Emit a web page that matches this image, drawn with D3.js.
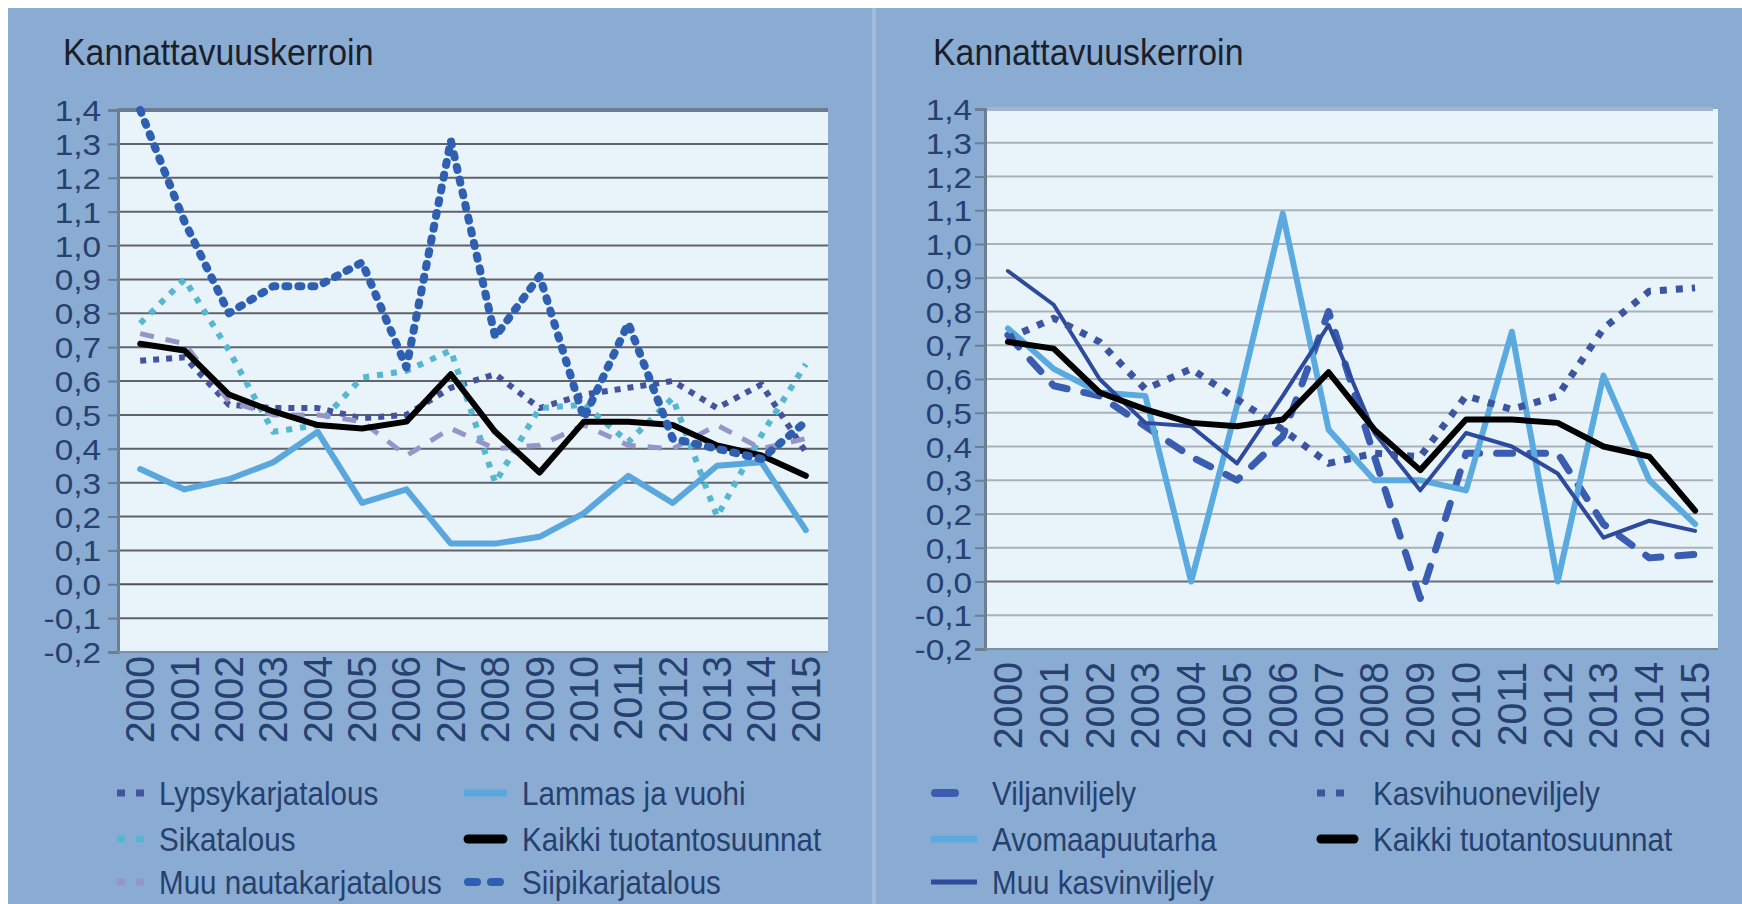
<!DOCTYPE html>
<html><head><meta charset="utf-8">
<script src="https://cdn.jsdelivr.net/npm/d3@7"></script>
<style>html,body{margin:0;padding:0;background:#fff;}svg{display:block;}</style>
</head><body>
<svg id="c" width="1742" height="904"></svg>
<script>
// ---------- data ----------
const years = ["2000","2001","2002","2003","2004","2005","2006","2007","2008","2009","2010","2011","2012","2013","2014","2015"];
const yTicks = [-0.2,-0.1,0.0,0.1,0.2,0.3,0.4,0.5,0.6,0.7,0.8,0.9,1.0,1.1,1.2,1.3,1.4];
const yTitle = "Kannattavuuskerroin";

// left panel (kotieläintalous)
const lypsykarjatalous   = [0.66,0.67,0.53,0.52,0.52,0.49,0.50,0.58,0.62,0.52,0.56,0.58,0.60,0.52,0.59,0.39];
const sikatalous         = [0.77,0.90,0.69,0.45,0.47,0.61,0.63,0.69,0.30,0.52,0.53,0.42,0.55,0.20,0.44,0.65];
const muuNautakarjatalous= [0.74,0.71,0.54,0.50,0.50,0.48,0.38,0.46,0.40,0.41,0.47,0.41,0.40,0.47,0.40,0.43];
const lammasJaVuohi      = [0.34,0.28,0.31,0.36,0.45,0.24,0.28,0.12,0.12,0.14,0.21,0.32,0.24,0.35,0.36,0.16];
const kaikkiVasen        = [0.71,0.69,0.56,0.51,0.47,0.46,0.48,0.62,0.45,0.33,0.48,0.48,0.47,0.41,0.38,0.32];
const siipikarjatalous   = [1.40,1.07,0.80,0.88,0.88,0.95,0.64,1.31,0.73,0.91,0.49,0.77,0.43,0.40,0.37,0.48];

// right panel (kasvinviljely)
const viljanviljely      = [0.73,0.58,0.55,0.46,0.37,0.30,0.43,0.80,0.37,-0.05,0.38,0.38,0.38,0.17,0.07,0.08];
const avomaapuutarha     = [0.75,0.63,0.56,0.55,0.00,0.52,1.09,0.45,0.30,0.30,0.27,0.74,0.00,0.61,0.30,0.17];
const muuKasvinviljely   = [0.92,0.82,0.60,0.47,0.46,0.35,0.55,0.76,0.44,0.27,0.44,0.40,0.32,0.13,0.18,0.15];
const kasvihuoneviljely  = [0.72,0.78,0.71,0.57,0.63,0.54,0.45,0.35,0.38,0.37,0.55,0.51,0.55,0.75,0.86,0.87];
const kaikkiOikea        = [0.71,0.69,0.56,0.51,0.47,0.46,0.48,0.62,0.45,0.33,0.48,0.48,0.47,0.40,0.37,0.21];

// ---------- styles ----------
const FONT = "'Liberation Sans', Arial, sans-serif";
const PANEL_BG = "#8aacd2", PLOT_BG = "#e9f3fa", LABEL = "#26406f", TITLE = "#1b1f2a";

const leftSeries = [
  {name:"Lypsykarjatalous", values:lypsykarjatalous, color:"#44549c", width:6, dash:"6 7", cap:"butt", leg:{col:0,row:0,type:"dots"}},
  {name:"Sikatalous", values:sikatalous, color:"#55b7d1", width:6, dash:"6 8", cap:"butt", leg:{col:0,row:1,type:"dots"}},
  {name:"Muu nautakarjatalous", values:muuNautakarjatalous, color:"#9495c8", width:5, dash:"14 12", cap:"butt", leg:{col:0,row:2,type:"dots"}},
  {name:"Lammas ja vuohi", values:lammasJaVuohi, color:"#5aa7dd", width:6, dash:null, cap:"round", leg:{col:1,row:0,type:"line"}},
  {name:"Kaikki tuotantosuunnat", values:kaikkiVasen, color:"#000000", width:6, dash:null, cap:"round", leg:{col:1,row:1,type:"thick"}},
  {name:"Siipikarjatalous", values:siipikarjatalous, color:"#2f5fb0", width:8, dash:"3 10", cap:"round", leg:{col:1,row:2,type:"round"}}
];
const rightSeries = [
  {name:"Viljanviljely", values:viljanviljely, color:"#3a5db2", width:7, dash:"16 17", cap:"round", leg:{col:0,row:0,type:"dash"}},
  {name:"Avomaapuutarha", values:avomaapuutarha, color:"#5aaae0", width:6, dash:null, cap:"round", leg:{col:0,row:1,type:"line"}},
  {name:"Muu kasvinviljely", values:muuKasvinviljely, color:"#2d4a9c", width:4, dash:null, cap:"round", leg:{col:0,row:2,type:"line"}},
  {name:"Kasvihuoneviljely", values:kasvihuoneviljely, color:"#3b55a0", width:7, dash:"7 9", cap:"butt", leg:{col:1,row:0,type:"dots"}},
  {name:"Kaikki tuotantosuunnat", values:kaikkiOikea, color:"#000000", width:6, dash:null, cap:"round", leg:{col:1,row:1,type:"thick"}}
];

const svg = d3.select("#c");
svg.append("rect").attr("x",0).attr("y",0).attr("width",1742).attr("height",904).attr("fill","#ffffff");

function txt(g, x, y, s, size, sx, opts={}) {
  const t = g.append("text")
    .attr("transform", `translate(${x},${y})` + (opts.rot ? ` rotate(${opts.rot})` : "") + ` scale(${sx},1)`)
    .attr("font-family", FONT).attr("font-size", size)
    .attr("fill", opts.fill || LABEL)
    .attr("text-anchor", opts.anchor || "start")
    .text(s);
  if (opts.baseline) t.attr("dominant-baseline", opts.baseline);
  return t;
}

function panel(cfg, series) {
  const g = svg.append("g");
  g.append("rect").attr("x",cfg.px0).attr("y",8).attr("width",cfg.px1-cfg.px0).attr("height",904-8).attr("fill",PANEL_BG);
  const x = d3.scalePoint().domain(years).range([cfg.x0, cfg.x1]).padding(0.5);
  const y = d3.scaleLinear().domain([-0.2, 1.4]).range([cfg.bottom, cfg.top]);

  g.append("rect").attr("x",cfg.x0).attr("y",cfg.top).attr("width",cfg.x1-cfg.x0).attr("height",cfg.bottom-cfg.top).attr("fill",PLOT_BG);

  // gridlines
  g.append("g").selectAll("line").data(yTicks.slice(1)).join("line")
    .attr("x1",cfg.x0).attr("x2",cfg.gridEnd)
    .attr("y1",d=>y(d)).attr("y2",d=>y(d))
    .attr("stroke",d=> d===1.4 ? cfg.topColor : (Math.abs(d)<1e-9 ? cfg.zeroColor : cfg.gridColor))
    .attr("stroke-width",d=> d===1.4 ? 4 : 2);

  // y axis via d3 axis
  const ax = g.append("g").attr("transform",`translate(${cfg.x0},0)`)
    .call(d3.axisLeft(y).tickValues(yTicks).tickSize(10).tickFormat(()=>""));
  ax.select(".domain").attr("stroke","#6d7e92").attr("stroke-width",3);
  ax.selectAll(".tick line").attr("stroke","#6d7e92").attr("stroke-width",2);
  // bottom border
  g.append("line").attr("x1",cfg.x0).attr("x2",cfg.x1).attr("y1",cfg.bottom).attr("y2",cfg.bottom).attr("stroke","#7d8fa4").attr("stroke-width",2);

  // y tick labels
  const fmt = v => d3.format(".1f")(v).replace(".",",").replace("\u2212","-");
  yTicks.forEach(v => {
    txt(g, cfg.ylabX, y(v)+11, fmt(v), 29, 1.15, {anchor:"end"});
  });
  // x tick labels
  years.forEach(yr => {
    txt(g, x(yr)+14, cfg.xlabTop, yr, 40, 0.98, {rot:-90, anchor:"end"});
  });
  // title
  txt(g, cfg.titleX, 65, yTitle, 37, 0.915, {fill:TITLE});

  // lines
  const line = d3.line().x((d,i)=>x(years[i])).y(d=>y(d)).curve(d3.curveLinear);
  const clipId = "clip"+cfg.px0;
  g.append("clipPath").attr("id",clipId).append("rect").attr("x",cfg.x0).attr("y",cfg.top-6).attr("width",cfg.x1-cfg.x0).attr("height",cfg.bottom-cfg.top+6);
  const lg = g.append("g").attr("clip-path",`url(#${clipId})`);
  series.forEach(s => {
    const p = lg.append("path").datum(s.values).attr("d",line)
      .attr("fill","none").attr("stroke",s.color).attr("stroke-width",s.width)
      .attr("stroke-linecap",s.cap).attr("stroke-linejoin","round");
    if (s.dash) p.attr("stroke-dasharray",s.dash);
  });

  // legend
  const rowY = [793, 839, 882];
  series.forEach(s => {
    const L = s.leg;
    const sx0 = cfg.legSym[L.col][0], sx1 = cfg.legSym[L.col][1];
    const cy = rowY[L.row];
    const l = g.append("line").attr("y1",cy).attr("y2",cy).attr("stroke",s.color);
    if (L.type==="dots") {
      l.attr("x1",sx0).attr("x2",sx0+27).attr("stroke-width",7).attr("stroke-dasharray","8 11");
    } else if (L.type==="round") {
      l.attr("x1",sx0+4).attr("x2",sx0+38).attr("stroke-width",8).attr("stroke-linecap","round").attr("stroke-dasharray","9 14");
    } else if (L.type==="dash") {
      l.attr("x1",sx0+4).attr("x2",sx0+24).attr("stroke-width",8).attr("stroke-linecap","round");
    } else if (L.type==="thick") {
      l.attr("x1",sx0+4).attr("x2",sx1-4).attr("stroke-width",9).attr("stroke-linecap","round");
    } else {
      l.attr("x1",sx0).attr("x2",sx1).attr("stroke-width",s.width+1);
    }
    txt(g, cfg.legText[L.col], cy+12, s.name, 34, 0.87);
  });
}

panel({px0:8, px1:872, x0:118, x1:828, gridEnd:828, top:110, bottom:652, ylabX:101, xlabTop:656, titleX:63,
       gridColor:"#5f636b", zeroColor:"#4f535b", topColor:"#6b7c90",
       legSym:[[117,144],[464,507]], legText:[159,522]}, leftSeries);
panel({px0:876, px1:1742, x0:985, x1:1718, gridEnd:1713, top:109, bottom:649, ylabX:972, xlabTop:662, titleX:933,
       gridColor:"#a9b1b9", zeroColor:"#6a6e74", topColor:"#a3b6cb",
       legSym:[[931,977],[1317,1358]], legText:[992,1373]}, rightSeries);
// divider
svg.append("rect").attr("x",872).attr("y",8).attr("width",4).attr("height",896).attr("fill","#a3bcdc");
</script>
</body></html>
